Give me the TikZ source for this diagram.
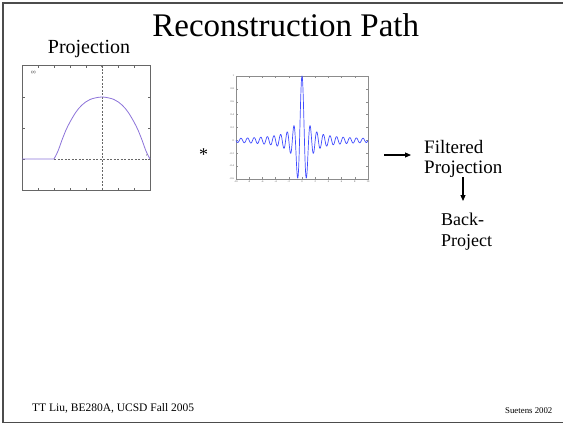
\documentclass[tikz,border=0pt]{standalone}
\usepackage{fontspec}
\setmainfont{Liberation Serif}
\usetikzlibrary{arrows.meta}
\begin{document}
\begin{tikzpicture}[x=1pt,y=-1pt,
  framestyle/.style={draw=black!70, line width=1.4pt},
  axisone/.style={draw=black!60, line width=0.6pt},
  axistwo/.style={draw=black!45, line width=0.35pt},
  dashline/.style={draw=black!60, line width=0.6pt, dash pattern=on 2pt off 1.5pt},
  arr/.style={draw=black, line width=1.1pt, -{Triangle[length=6pt,width=5pt]}},
  tinylab/.style={font=\fontsize{2.6}{3}\selectfont, inner sep=0, text=black!70},
  txt/.style={inner sep=0}]
\useasboundingbox (0,0) rectangle (563,424);
% slide frame
\draw[framestyle] (563,3) -- (3,3) -- (3,422.5) -- (563,422.5);
% title and texts
\node[txt, anchor=base, font=\fontsize{33}{36}\selectfont] (title) at (285.7,36) {Reconstruction Path};
\node[txt, anchor=base, font=\fontsize{20}{22}\selectfont] (proj) at (89,53) {Projection};
\node[txt, font=\fontsize{18}{20}\selectfont] (star) at (203.5,155) {*};
\node[txt, anchor=north west, align=left, font=\fontsize{19}{20}\selectfont] (filt) at (424,140.5) {Filtered\\Projection};
\node[txt, anchor=north west, align=left, font=\fontsize{18}{21}\selectfont] (back) at (441,212.5) {Back-\\Project};
\node[txt, anchor=base west, font=\fontsize{11.5}{13}\selectfont] (foot) at (32,411) {TT Liu, BE280A, UCSD Fall 2005};
\node[txt, anchor=base west, font=\fontsize{8.8}{10}\selectfont] (cite) at (505,413.3) {Suetens 2002};
% arrows
\coordinate (h1) at (384,155);
\coordinate (h2) at (411,155);
\draw[arr] (h1) -- (h2);
\coordinate (v1) at (463,177);
\coordinate (v2) at (463,201);
\draw[arr] (v1) -- (v2);
% ---- plot 1 (projection)
\draw[dashline] (102,65) -- (102,190);
\draw[dashline] (54,159) -- (150,159);
\draw[axisone] (22,65) rectangle (150,190);
\foreach \xx in {38,54,...,134} {
  \draw[axisone] (\xx,65) -- (\xx,67.5);
  \draw[axisone] (\xx,190) -- (\xx,187.5);
}
\foreach \yy in {97,128,159} {
  \draw[axisone] (22,\yy) -- (24.5,\yy);
  \draw[axisone] (150,\yy) -- (147.5,\yy);
}
\fill[black!60] (102,66.5) circle (0.9);
\draw[color={rgb,1:red,0.55;green,0.45;blue,0.85}, line width=0.8pt]
  (22,159) -- (54,159)
  plot[smooth, tension=0.55] coordinates {(54,159) (58,151) (62,140) (66,130) (70,122) (76,112) (82,105) (90,99.5) (102,97) (114,99.5) (122,105) (128,112) (134,122) (138,130) (142,140) (146,151) (150,159)};
\node[tinylab, font=\fontsize{4}{4}\selectfont\bfseries] (elab) at (33.5,73) {(e)};
\node[tinylab, font=\fontsize{4}{4}\selectfont\itshape] (rlab) at (147,155.5) {r};
% ---- plot 2 (filter kernel)
\draw[axistwo] (236,76) rectangle (368,179);
\foreach \k in {0,...,10} {
  \pgfmathtruncatemacro{\lab}{-10+2*\k}
  \draw[axistwo] ({236+13.2*\k},179) -- ({236+13.2*\k},177.3);
  \draw[axistwo] ({236+13.2*\k},76) -- ({236+13.2*\k},77.7);
  \node[tinylab] (xl\k) at ({236+13.2*\k},182) {\lab};
}
\foreach \k/\lab in {0/1,1/0.8,2/0.6,3/0.4,4/0.2,5/0,6/-0.2,7/-0.4,8/-0.6} {
  \draw[axistwo] (236,{76+12.875*\k}) -- (237.7,{76+12.875*\k});
  \draw[axistwo] (368,{76+12.875*\k}) -- (366.3,{76+12.875*\k});
  \node[tinylab, anchor=east] (yl\k) at (234,{76+12.875*\k}) {\lab};
}
\draw[color={rgb,1:red,0.25;green,0.3;blue,1}, line width=0.7pt, line join=round]
  plot[domain=-10:10, samples=800, variable=\t]
  ({302+6.6*\t}, {140.375-64.375*(sin(360*\t)/(pi*\t) - (sin(180*\t)/(pi*\t))^2)});
\end{tikzpicture}
\end{document}
